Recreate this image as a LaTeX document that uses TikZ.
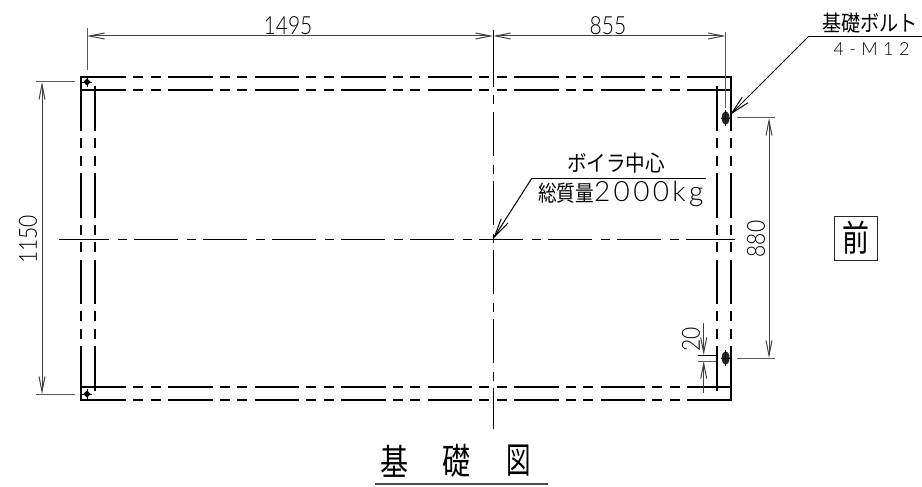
\documentclass[tikz,border=0pt]{standalone}
\usepackage{fontspec}
\setmainfont{Lato}[UprightFont=* Light]
\newfontfamily\cjk{Noto Sans CJK JP}
\usetikzlibrary{arrows.meta}
\tikzset{
  x=1pt,y=-1pt,
  heavy/.style={line width=2pt,black},
  phantomline/.style={heavy,dash pattern=on 44.5pt off 7pt on 10pt off 7.5pt on 10pt off 7.5pt},
  centreline/.style={line width=1pt,black,dash pattern=on 44pt off 8.5pt on 9pt off 7.5pt},
  thin1/.style={line width=1pt,black},
  extline/.style={line width=1pt,black!65},
  dimline/.style={line width=1pt,black!75,{Straight Barb[length=15pt,width=6pt]}-{Straight Barb[length=15pt,width=6pt]}},
  tipend/.style={-{Straight Barb[length=15pt,width=6pt]}},
  leader/.style={line width=1pt,black,-{Straight Barb[length=19pt,width=8pt]}},
  txt/.style={inner sep=0pt,outer sep=0pt,text=black},
  bolt/.style={fill=black!85,draw=none},
}
\newcommand{\dimnum}[1]{\scalebox{0.84}[1]{\fontsize{25}{25}\selectfont #1}}
\newcommand{\spc}[3]{{\fontsize{#1}{#1}\selectfont\addfontfeature{LetterSpace=#2}#3}}
\newcommand{\cj}[3]{\scalebox{#2}[1]{\fontsize{#1}{#1}\selectfont\cjk #3}}
\begin{document}
\begin{tikzpicture}
\useasboundingbox (0,0) rectangle (922,487);
% frame: horizontal members
\foreach \yy in {77,90,387,400}{\draw[phantomline] (81.5,\yy) -- (732,\yy);}
% vertical members
\foreach \xx in {81,95,717,731}{\draw[phantomline] (\xx,86.5) -- (\xx,390.5);}
\foreach \xx in {81,731}{\draw[heavy] (\xx,76) -- (\xx,87); \draw[heavy] (\xx,390) -- (\xx,401);}
\foreach \xx in {95,717}{\draw[heavy] (\xx,90) -- (\xx,87); \draw[heavy] (\xx,390) -- (\xx,386);}
% centre lines
\coordinate (cc) at (493,239);
\draw[centreline] (65,239) -- (730,239);
\draw[thin1] (59,239) -- (65,239) (730,239) -- (735,239);
\draw[centreline] (493,43) -- (493,429);
\draw[thin1] (493,30) -- (493,43);
% bolts
\foreach \p in {{87,82},{87,394}}{
  \fill[black] (\p) ++(-3.6,0) -- ++(3.6,-3.6) -- ++(3.6,3.6) -- ++(-3.6,3.6) -- cycle;
  \draw[line width=.7pt] (\p) ++(-5,0) -- ++(10,0);
  \draw[line width=.7pt] (\p) ++(0,-5) -- ++(0,10);
}
\foreach \p in {{725.6,118},{725.6,358}}{
  \fill[bolt] (\p) ellipse [x radius=4pt,y radius=6.5pt];
  \draw[line width=.8pt] (\p) ++(-5,0) -- ++(11,0);
  \draw[line width=.8pt] (\p) ++(0,-8) -- ++(0,16);
}
% dimension: top
\coordinate (dl) at (87,36); \coordinate (dm) at (493,36); \coordinate (dr) at (725.6,36);
\draw[dimline] (dl) -- (dm);
\draw[dimline] (dm) -- (dr);
\draw[extline] (87,28) -- (87,70);
\draw[extline] (725.6,32) -- (725.6,108);
\node[txt] (d1495) at (288,25.3) {\dimnum{1495}};
\node[txt] (d855) at (608,25.3) {\dimnum{855}};
% dimension: left
\draw[dimline] (42,82) -- (42,394);
\draw[extline] (36,82) -- (75,82);
\draw[extline] (36,394) -- (75,394);
\node[txt,rotate=90] (d1150) at (28,239.5) {\dimnum{1150}};
% dimension: right
\draw[dimline] (769,118) -- (769,358);
\draw[extline] (737,118) -- (775,118);
\draw[extline] (737,358) -- (775,358);
\node[txt,rotate=90] (d880) at (756,239) {\dimnum{880}};
% dimension: 20
\coordinate (a2) at (703.7,355);
\coordinate (b2) at (703.7,361);
\draw[line width=1pt,black!75,tipend] (703.7,323) -- (a2);
\draw[line width=1pt,black!75,tipend] (703.7,393) -- (b2);
\draw[line width=1pt,black] (698,355) -- (716,355);
\draw[extline] (698,361) -- (716,361);
\node[txt,rotate=90] (d20) at (691,339) {\dimnum{20}};
% bolt callout
\coordinate (bk) at (808,37);
\draw[line width=1pt] (922,37) -- (bk);
\draw[leader] (bk) -- (730,115);
\node[txt] (t1) at (870,23.5) {\cj{22}{0.87}{基礎ボルト}};
\node[txt] (t2) at (871.5,49.5) {\spc{18}{30}{4-M12}};
% boiler centre callout
\coordinate (ck) at (532,178);
\draw[line width=1pt] (706,178) -- (ck);
\draw[leader] (ck) -- (cc);
\node[txt] (t3) at (616,163) {\cj{22}{0.89}{ボイラ中心}};
\node[txt,anchor=base west] (t4) at (538,201) {\cj{22}{0.85}{総質量}\spc{28}{12}{2000kg}};
% front mark
\node[draw=black!85,line width=1pt,minimum width=43pt,minimum height=44pt,inner sep=0pt,text=black] (front) at (855.5,238) {\cj{36}{0.75}{前}};
% title
\node[txt] (ti1) at (394.5,461) {\cj{36}{0.78}{基}};
\node[txt] (ti2) at (456.5,461) {\cj{36}{0.78}{礎}};
\node[txt] (ti3) at (519,461) {\cj{36}{0.68}{図}};
\coordinate (u1) at (375,484); \coordinate (u2) at (548,484);
\draw[line width=1.6pt,black!70] (u1) -- (u2);
\end{tikzpicture}
\end{document}
